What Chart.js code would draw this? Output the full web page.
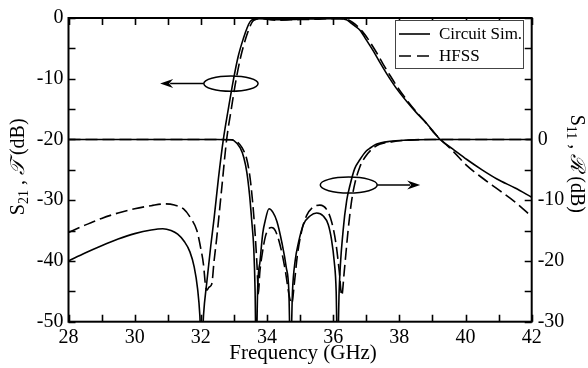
<!DOCTYPE html>
<html><head><meta charset="utf-8">
<script src="https://cdn.jsdelivr.net/npm/chart.js@4"></script>
<style>html,body{margin:0;padding:0;background:#fff}</style>
</head><body>
<canvas id="c" width="588" height="368"></canvas>
<script>
// ---- data ----
const xTicks = [28, 30, 32, 34, 36, 38, 40, 42];
const leftTicks = [0, -10, -20, -30, -40, -50];
const rightTicks = [0, -10, -20, -30];

// S21 / T, circuit simulation (left axis, dB)
const fCircS21 = [28.0,28.5,29.0,29.5,30.0,30.5,30.85,31.1,31.3,31.5,31.67,31.8,31.9,31.97,32.02,32.08,32.18,32.3,32.4,32.53,32.68,32.83,32.98,33.13,33.29,33.4,33.49,33.6,33.75,34.0,34.3,34.7,35.0,35.5,35.9,36.2,36.4,36.51,36.65,36.81,37.0,37.22,37.42,37.62,37.9,38.23,38.5,38.73,39.0,39.23,39.6,40.04,40.5,40.95,41.5,42.0];
const circS21 = [-40.0,-38.7,-37.5,-36.4,-35.5,-34.9,-34.7,-35.0,-35.6,-36.8,-38.5,-41.0,-44.5,-49,-56,-49,-43.5,-37.5,-33,-26.5,-20,-15,-10.3,-6.3,-3.3,-1.6,-0.6,-0.2,-0.1,-0.15,-0.3,-0.25,-0.2,-0.15,-0.1,-0.1,-0.3,-0.7,-1.3,-2.0,-3.6,-5.5,-7.4,-9.2,-11.5,-13.8,-15.5,-16.8,-18.5,-20,-21.5,-23.3,-25.0,-26.5,-28.0,-29.5];

// S21 / T, HFSS (left axis, dB)
const fHfssS21 = [28.0,28.5,29.0,29.5,30.0,30.5,30.9,31.2,31.47,31.7,31.88,32.0,32.08,32.14,32.18,32.25,32.33,32.4,32.48,32.63,32.78,32.92,33.06,33.2,33.36,33.47,33.56,33.67,33.8,34.0,34.3,34.7,35.0,35.5,35.9,36.25,36.45,36.58,36.72,36.88,37.07,37.3,37.5,37.7,37.97,38.28,38.55,38.78,39.03,39.25,39.6,40.04,40.5,40.95,41.5,42.0];
const hfssS21 = [-35.3,-34.1,-33.0,-32.1,-31.4,-30.9,-30.6,-30.8,-31.4,-33.0,-35.0,-38.0,-40.6,-44.0,-44.8,-44.3,-43.8,-40,-36.2,-28.1,-20,-15,-10.3,-6.5,-3.3,-1.6,-0.6,-0.2,-0.1,-0.2,-0.35,-0.3,-0.25,-0.2,-0.1,-0.1,-0.3,-0.7,-1.3,-2.2,-3.6,-5.6,-7.5,-9.3,-11.6,-13.9,-15.7,-17.1,-18.8,-20,-21.8,-24.3,-26.3,-28.1,-30.3,-32.7];

// S11 / R, circuit simulation (right axis, dB)
const fCircS11 = [28,30,32,32.5,32.88,33.0,33.19,33.3,33.39,33.47,33.54,33.6,33.64,33.67,33.72,33.79,33.87,33.94,34.06,34.18,34.3,34.45,34.58,34.66,34.71,34.77,34.85,34.95,35.1,35.3,35.5,35.7,35.85,35.95,36.03,36.09,36.13,36.18,36.3,36.41,36.51,36.65,36.81,37.0,37.12,37.3,37.72,38.2,39,40,42];
const circS11 = [0,0,0,0,-0.05,-0.2,-1.4,-3.0,-5.4,-9,-13.5,-18,-25,-36,-24,-20,-15.5,-13.5,-11.4,-12.0,-13.5,-17,-21,-25,-36,-25,-20,-17,-14,-12.6,-12.1,-12.6,-14,-16.5,-20,-25,-36,-25,-15,-10,-7.5,-4.8,-3.3,-1.9,-1.4,-0.8,-0.3,-0.1,0,0,0];

// S11 / R, HFSS (right axis, dB)
const fHfssS11 = [28,30,32,32.6,32.95,33.08,33.25,33.39,33.48,33.56,33.64,33.7,33.74,33.78,33.85,33.95,34.05,34.14,34.25,34.4,34.55,34.68,34.75,34.82,34.92,35.05,35.2,35.4,35.6,35.8,35.95,36.08,36.18,36.26,36.33,36.45,36.56,36.66,36.8,36.95,37.17,37.4,37.8,38.3,39,40,42];
const hfssS11 = [0,0,0,0,-0.05,-0.3,-1.4,-3.3,-6,-10,-15.5,-21,-25.4,-22,-19,-16,-14.7,-14.5,-15,-17.5,-21.5,-26,-27,-24,-19,-15,-12.5,-11.1,-10.8,-11.5,-13.5,-17,-21.5,-25.7,-22,-15,-10,-7.1,-4.6,-3,-1.6,-0.8,-0.35,-0.1,0,0,0];

const seriesNames = ['Circuit Sim.', 'HFSS'];

function pts(xs, ys){ return xs.map((x,i)=>({x:x, y:ys[i]})); }

const SERIF = "'Liberation Serif','DejaVu Serif',serif";
const DASH = [12,5];

function arrowHead(ctx, x, y, dir){
  ctx.beginPath();
  ctx.moveTo(x, y);
  ctx.lineTo(x - dir*13, y - 4.5);
  ctx.lineTo(x - dir*9, y);
  ctx.lineTo(x - dir*13, y + 4.5);
  ctx.closePath();
  ctx.fill();
}

function drawRich(ctx, parts, cx, cy, rot){
  ctx.save();
  ctx.translate(cx, cy);
  ctx.rotate(rot);
  let w = 0;
  parts.forEach(p=>{ ctx.font = p.font; p.w = ctx.measureText(p.t).width; w += p.w; });
  let x = -w/2;
  ctx.textBaseline = 'alphabetic';
  ctx.textAlign = 'left';
  ctx.fillStyle = '#000';
  parts.forEach(p=>{ ctx.font = p.font; ctx.fillText(p.t, x, 7 + (p.dy||0)); x += p.w; });
  ctx.restore();
}

const decor = {
  id: 'decor',
  afterDatasetsDraw(chart){
    const ctx = chart.ctx, a = chart.chartArea;
    const sx = chart.scales.x, sy = chart.scales.y, sy2 = chart.scales.y2;
    ctx.save();
    ctx.strokeStyle = '#000';
    ctx.fillStyle = '#000';
    // frame
    ctx.lineWidth = 2;
    ctx.strokeRect(a.left, a.top, a.right - a.left, a.bottom - a.top);
    // inward ticks
    ctx.lineWidth = 1.6;
    const TL = 7;
    ctx.beginPath();
    for (let v = sx.min; v <= sx.max + 1e-9; v += 1){
      const px = Math.round(sx.getPixelForValue(v)) + 0.5;
      ctx.moveTo(px, a.bottom); ctx.lineTo(px, a.bottom - TL);
      ctx.moveTo(px, a.top); ctx.lineTo(px, a.top + TL);
    }
    for (let v = sy.min; v <= sy.max + 1e-9; v += 5){
      const py = Math.round(sy.getPixelForValue(v)) + 0.5;
      ctx.moveTo(a.left, py); ctx.lineTo(a.left + TL, py);
    }
    for (let v = sy2.min; v <= sy2.max + 1e-9; v += 5){
      const py = Math.round(sy2.getPixelForValue(v)) + 0.5;
      ctx.moveTo(a.right, py); ctx.lineTo(a.right - TL, py);
    }
    ctx.stroke();

    // ellipse + arrow for S21 (points to left axis)
    ctx.lineWidth = 1.5;
    const e1x = sx.getPixelForValue(32.91), e1y = sy.getPixelForValue(-10.8);
    const e1rx = sx.getPixelForValue(32.91 + 0.82) - e1x;
    ctx.beginPath(); ctx.ellipse(e1x, e1y, e1rx, 7.7, 0, 0, Math.PI*2); ctx.stroke();
    const t1 = sx.getPixelForValue(30.77);
    ctx.beginPath(); ctx.moveTo(e1x - e1rx, e1y); ctx.lineTo(t1 + 10, e1y); ctx.stroke();
    arrowHead(ctx, t1, e1y, -1);

    // ellipse + arrow for S11 (points to right axis)
    const e2x = sx.getPixelForValue(36.47), e2y = sy2.getPixelForValue(-7.5);
    const e2rx = sx.getPixelForValue(36.47 + 0.86) - e2x;
    ctx.beginPath(); ctx.ellipse(e2x, e2y, e2rx, 8, 0, 0, Math.PI*2); ctx.stroke();
    const t2 = sx.getPixelForValue(38.63);
    ctx.beginPath(); ctx.moveTo(e2x + e2rx, e2y); ctx.lineTo(t2 - 10, e2y); ctx.stroke();
    arrowHead(ctx, t2, e2y, 1);

    // legend box
    const lx = 395.5, ly = 20.5, lw = 128, lh = 48;
    ctx.fillStyle = '#fff';
    ctx.fillRect(lx, ly, lw, lh);
    ctx.strokeStyle = '#444';
    ctx.lineWidth = 1;
    ctx.strokeRect(lx, ly, lw, lh);
    ctx.strokeStyle = '#000';
    ctx.fillStyle = '#000';
    ctx.font = '17px ' + SERIF;
    ctx.textBaseline = 'middle';
    ctx.textAlign = 'left';
    const rows = [34, 56];
    seriesNames.forEach((name, i)=>{
      ctx.lineWidth = 1.6;
      ctx.setLineDash(i === 1 ? [12,6] : []);
      ctx.beginPath(); ctx.moveTo(399, rows[i]); ctx.lineTo(430, rows[i]); ctx.stroke();
      ctx.setLineDash([]);
      ctx.fillText(name, 439, rows[i] + 1);
    });

    // axis titles
    const big = '20px ' + SERIF, sub = '14px ' + SERIF, it = 'italic 20px ' + SERIF;
    drawRich(ctx, [
      {t:'S', font:big}, {t:'21', font:sub, dy:4}, {t:' , ', font:big},
      {t:'\uD835\uDCAF', font:it}, {t:' (dB)', font:big}
    ], 17, (a.top + a.bottom)/2 - 3, -Math.PI/2);
    drawRich(ctx, [
      {t:'S', font:big}, {t:'11', font:sub, dy:4}, {t:' , ', font:big},
      {t:'\u211B', font:it}, {t:' (dB)', font:big}
    ], 578, (a.top + a.bottom)/2 - 6, Math.PI/2);
    ctx.font = '21px ' + SERIF;
    ctx.textAlign = 'center';
    ctx.textBaseline = 'alphabetic';
    ctx.fillText('Frequency (GHz)', (a.left + a.right)/2 + 3, 359);
    ctx.restore();
  }
};

const lineBase = {borderColor:'#000', borderWidth:1.6, pointRadius:0, cubicInterpolationMode:'monotone', fill:false};
const noGrid = {display:false, drawTicks:false, tickLength:0};

new Chart(document.getElementById('c'), {
  type: 'line',
  data: { datasets: [
    Object.assign({label: seriesNames[0], data: pts(fCircS21, circS21), yAxisID:'y'}, lineBase),
    Object.assign({label: seriesNames[1], data: pts(fHfssS21, hfssS21), yAxisID:'y', borderDash: DASH}, lineBase),
    Object.assign({label: seriesNames[0], data: pts(fCircS11, circS11), yAxisID:'y2'}, lineBase),
    Object.assign({label: seriesNames[1], data: pts(fHfssS11, hfssS11), yAxisID:'y2', borderDash: DASH}, lineBase)
  ]},
  options: {
    responsive: false, animation: false,
    layout: {padding: {top: 13, left: 0, right: 0, bottom: 0}},
    plugins: {legend: {display: false}, tooltip: {enabled: false}},
    scales: {
      x: {type:'linear', min:28, max:42,
        afterBuildTicks: s => { s.ticks = xTicks.map(v=>({value:v})); },
        afterFit: s => { s.height = 46.3; },
        grid: noGrid, border: {display:false},
        ticks: {font:{family:SERIF, size:20}, color:'#000', padding:4, maxRotation:0, autoSkip:false}},
      y: {position:'left', min:-50, max:0,
        afterBuildTicks: s => { s.ticks = leftTicks.map(v=>({value:v})); },
        afterFit: s => { s.width = 68.5; },
        grid: noGrid, border: {display:false},
        ticks: {font:{family:SERIF, size:20}, color:'#000', padding:5}},
      y2: {position:'right', min:-30, max:20,
        afterBuildTicks: s => { s.ticks = rightTicks.map(v=>({value:v})); },
        afterFit: s => { s.width = 56.3; },
        grid: noGrid, border: {display:false},
        ticks: {font:{family:SERIF, size:20}, color:'#000', padding:6}}
    }
  },
  plugins: [decor]
});
</script>
</body></html>
